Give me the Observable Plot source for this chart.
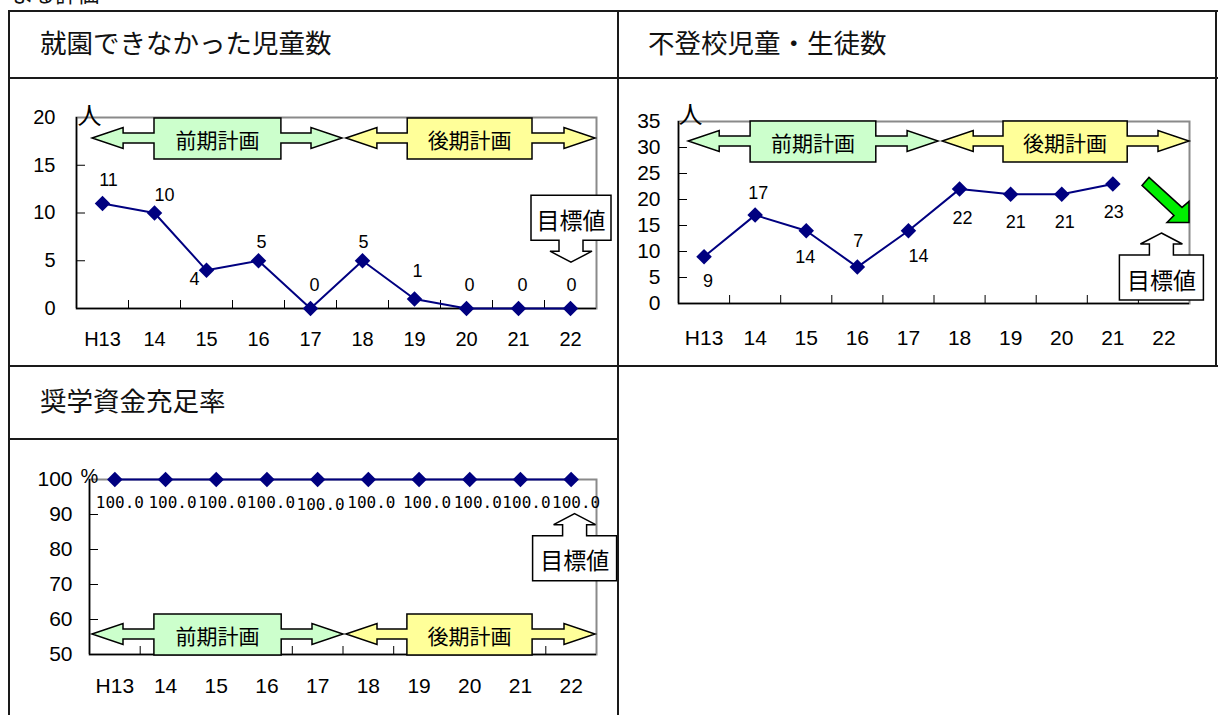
<!DOCTYPE html>
<html><head><meta charset="utf-8">
<script src="https://cdn.jsdelivr.net/npm/d3@7"></script>
<script src="https://cdn.jsdelivr.net/npm/@observablehq/plot@0.6"></script>
<style>
body{margin:0;background:#fff;}
#page{position:relative;width:1218px;height:715px;overflow:hidden;background:#fff;font-family:"Noto Sans CJK JP",sans-serif;color:#000;}
.ln{position:absolute;background:#1a1a1a;}
.title{position:absolute;font-size:26.5px;line-height:1;color:#111;white-space:nowrap;}
.chart{position:absolute;}
.chart svg{overflow:visible;}
</style></head><body>
<div id="page">
  <div class="title" style="left:12px;top:-19px;font-size:22px">よる評価</div>
  <div class="title" style="left:40px;top:29px">就園できなかった児童数</div>
  <div class="title" style="left:648px;top:29px">不登校児童・生徒数</div>
  <div class="title" style="left:40px;top:387px">奨学資金充足率</div>
  <div id="c1" class="chart"></div>
  <div id="c2" class="chart"></div>
  <div id="c3" class="chart"></div>
  <div class="ln" style="left:8px;top:10px;width:1210px;height:2px"></div>
  <div class="ln" style="left:8px;top:77px;width:1210px;height:2px"></div>
  <div class="ln" style="left:8px;top:365px;width:1210px;height:2px"></div>
  <div class="ln" style="left:8px;top:438px;width:611px;height:2px"></div>
  <div class="ln" style="left:8px;top:10px;width:2px;height:705px"></div>
  <div class="ln" style="left:617px;top:10px;width:2px;height:705px"></div>
  <div class="ln" style="left:1215px;top:10px;width:2px;height:357px"></div>
</div>
<script>
// ---- data ----
const years = ["H13","14","15","16","17","18","19","20","21","22"];
const unenrolled = [11,10,4,5,0,5,1,0,0,0];
const truancy = [9,17,14,7,14,22,21,21,23,null];
const scholarship = [100,100,100,100,100,100,100,100,100,100];
const phaseNames = ["前期計画","後期計画"];
const targetLabel = "目標値";

const sans = "'Liberation Sans', Arial, sans-serif";
const cjk = "'Noto Sans CJK JP', sans-serif";
const mono = "'DejaVu Sans Mono', monospace";
const phaseFill = ["#ccffcc","#ffff99"];

const charts = [
  {id:"c1", values:unenrolled, left:10, top:79, width:606, height:286, m:[38,20,57,66],
   y:[0,20], yTicks:[0,5,10,15,20], unit:"人", unitFont:24, unitDx:13, unitDy:-11,
   axisFont:20, xPad:23, yPad:21, labelFont:18, labelFamily:sans, fmt:d=>String(d),
   offsets:[[6,-23],[10,-18],[-12,9],[3,-19],[4,-23],[1,-19],[3,-28],[3,-23],[4,-23],[1,-23]],
   phaseCy:17.8, phases:[[0.31,1.5,3.94,5.115],[5.19,6.37,8.77,9.98]],
   callout:{x:9.5, dx:1, y:4.8, dir:-1, w:80}},
  {id:"c2", values:truancy, left:620, top:79, width:595, height:286, m:[42,26,62,58],
   y:[0,35], yTicks:[0,5,10,15,20,25,30,35], unit:"人", unitFont:24, unitDx:12, unitDy:-16,
   axisFont:21, xPad:27, yPad:18, labelFont:18, labelFamily:sans, fmt:d=>String(d),
   offsets:[[4,25],[3,-22],[-1,27],[1,-26],[10,26],[3,29],[5,28],[3,28],[1,28],[0,0]],
   phaseCy:31.15, phases:[[0.2,1.41,3.87,5.09],[5.17,6.36,8.79,10]],
   callout:{x:9.5, dx:-2, y:13.46, dir:1, w:84}, down:{x:10, y:15.5}},
  {id:"c3", values:scholarship, left:10, top:441, width:606, height:274, m:[38,20,61,79],
   y:[50,100], yTicks:[50,60,70,80,90,100], unit:"%", unitFont:20, unitDx:0, unitDy:-11,
   axisFont:21, xPad:24, yPad:17, labelFont:16, labelFamily:mono, fmt:d=>d.toFixed(1),
   offsets:[[5,23],[7,23],[6,23],[4,23],[3,25],[3,23],[8,23],[8,23],[6,23],[5,23]],
   phaseCy:55.7, phases:[[0.06,1.28,3.79,5.01],[5.07,6.27,8.74,9.98]],
   callout:{x:9.5, dx:4, y:90.1, dir:1, w:84}}
];

function poly(g, pts, fill, sw) {
  g.append("path")
    .attr("d", "M" + pts.map(p => p[0].toFixed(1) + "," + p[1].toFixed(1)).join("L") + "Z")
    .attr("fill", fill).attr("stroke", "#000").attr("stroke-width", sw || 1.5)
    .attr("stroke-linejoin", "miter");
}
function label(g, x, y, txt, size) {
  g.append("text").attr("x", x).attr("y", y).attr("text-anchor", "middle")
    .attr("dominant-baseline", "central").attr("font-family", cjk)
    .attr("font-size", size).attr("fill", "#000").text(txt);
}

function makeChart(c) {
  const data = c.values.map((v, i) => ({i, x: i + 0.5, v})).filter(d => d.v != null);
  const [mt, mr, mb, ml] = c.m;
  const fw = c.width - ml - mr, fh = c.height - mt - mb;
  const kx = 10 / fw, ky = (c.y[1] - c.y[0]) / fh;
  const marks = [
    Plot.frame({stroke: "#8a8a8a", strokeWidth: 2}),
    Plot.ruleY(c.yTicks.slice(1, -1), {x1: 0, x2: 9 * kx, stroke: "#000", strokeWidth: 1}),
    Plot.ruleX(d3.range(1, 10), {y1: c.y[0], y2: c.y[0] + 8 * ky, stroke: "#000", strokeWidth: 1}),
    Plot.ruleX([0], {stroke: "#000", strokeWidth: 1.5}),
    Plot.ruleY([c.y[0]], {stroke: "#000", strokeWidth: 1.5}),
    Plot.axisX({ticks: d3.range(10).map(i => i + 0.5), tickFormat: d => years[Math.floor(d)],
      tickSize: 0, tickPadding: c.xPad, fontSize: c.axisFont, fontFamily: sans, label: null}),
    Plot.axisY({ticks: c.yTicks, tickSize: 0, tickPadding: c.yPad, fontSize: c.axisFont,
      fontFamily: sans, label: null}),
    Plot.line(data, {x: "x", y: "v", stroke: "#000080", strokeWidth: 2}),
    Plot.dot(data, {x: "x", y: "v", symbol: "diamond2", r: 7, fill: "#000080", stroke: "none"}),
    ...data.map(d => Plot.text([d], {x: "x", y: "v", text: e => c.fmt(e.v),
      dx: c.offsets[d.i][0], dy: c.offsets[d.i][1], fontSize: c.labelFont,
      fontFamily: c.labelFamily, fill: "#000"})),
    Plot.text([c.unit], {frameAnchor: "top-left", text: d => d, dx: c.unitDx, dy: c.unitDy,
      fontSize: c.unitFont, fontFamily: c.unit === "%" ? sans : cjk, textAnchor: "middle", fill: "#000"})
  ];
  const svg = Plot.plot({
    width: c.width, height: c.height,
    marginTop: mt, marginRight: mr, marginBottom: mb, marginLeft: ml,
    x: {domain: [0, 10], label: null}, y: {domain: c.y, label: null},
    style: {background: "transparent", overflow: "visible", color: "#000"},
    marks
  });
  const X = v => svg.scale("x").apply(v), Y = v => svg.scale("y").apply(v);
  const g = d3.select(svg).append("g");
  // phase double arrows
  c.phases.forEach((p, k) => {
    const xl = X(p[0]), b0 = X(p[1]), b1 = X(p[2]), xr = X(p[3]), cy = Y(c.phaseCy);
    const hl = 31, hh = 10.5, sh = 5, bt = 20, bb = 21;
    poly(g, [[xl,cy],[xl+hl,cy-hh],[xl+hl,cy-sh],[b0,cy-sh],[b0,cy-bt],[b1,cy-bt],[b1,cy-sh],
      [xr-hl,cy-sh],[xr-hl,cy-hh],[xr,cy],[xr-hl,cy+hh],[xr-hl,cy+sh],[b1,cy+sh],[b1,cy+bb],
      [b0,cy+bb],[b0,cy+sh],[xl+hl,cy+sh],[xl+hl,cy+hh]], phaseFill[k]);
    label(g, (b0 + b1) / 2, cy + 1, phaseNames[k], 21);
  });
  // target callout
  const co = c.callout;
  const tx = X(co.x) + co.dx, ty = Y(co.y), s = -co.dir;
  const hl = 11, hw = 21, sw = 12, sl = 11, bh = 45, w2 = co.w / 2;
  const y1 = ty - s * hl, y2 = ty - s * (hl + sl), y3 = ty - s * (hl + sl + bh);
  poly(g, [[tx,ty],[tx+hw,y1],[tx+sw,y1],[tx+sw,y2],[tx+w2,y2],[tx+w2,y3],[tx-w2,y3],
    [tx-w2,y2],[tx-sw,y2],[tx-sw,y1],[tx-hw,y1]], "#fff");
  label(g, tx, (y2 + y3) / 2 + 1, targetLabel, 23);
  // downward trend arrow
  if (c.down) {
    const ax = X(c.down.x), ay = Y(c.down.y);
    poly(g, [[0,0],[-22,0],[-15,-7],[-47,-37],[-40,-45],[-7,-15],[0,-21]].map(p => [ax + p[0], ay + p[1]]), "#00ee00");
  }
  const host = document.getElementById(c.id);
  host.style.left = c.left + "px";
  host.style.top = c.top + "px";
  host.appendChild(svg);
}
charts.forEach(makeChart);
</script>
</body></html>
